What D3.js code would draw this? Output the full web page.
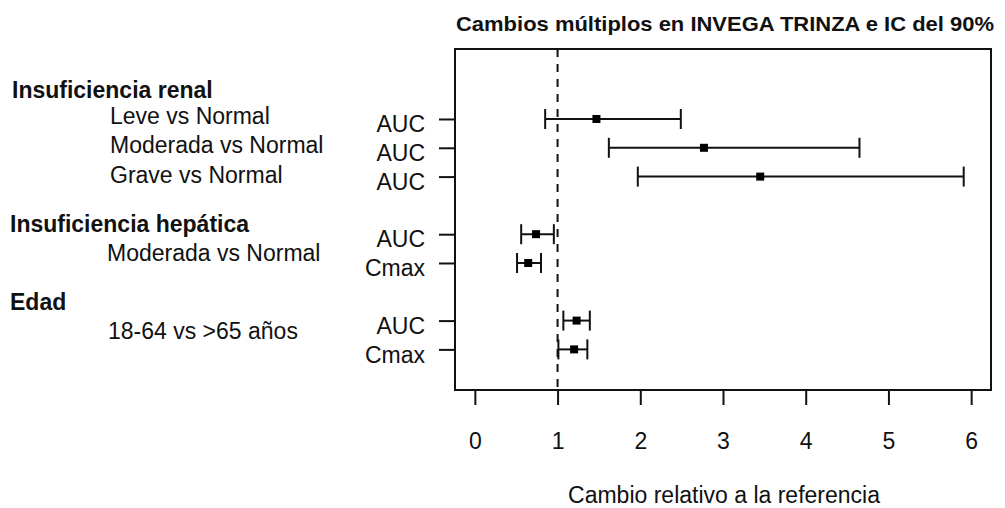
<!DOCTYPE html>
<html>
<head>
<meta charset="utf-8">
<script src="https://d3js.org/d3.v7.min.js"></script>
<style>
  body { margin: 0; background: #fff; }
  svg text { font-family: "Liberation Sans", Arial, sans-serif; fill: #111; }
</style>
</head>
<body>
<div id="chart"></div>
<script>
// data
var rowLabels = ["AUC", "AUC", "AUC", "AUC", "Cmax", "AUC", "Cmax"];
var rowIndex  = [0, 1, 2, 4, 5, 7, 8];
var pointEst  = [1.47, 2.77, 3.45, 0.74, 0.645, 1.23, 1.20];
var ciLow     = [0.85, 1.62, 1.97, 0.56, 0.51, 1.07, 1.01];
var ciHigh    = [2.49, 4.65, 5.91, 0.955, 0.80, 1.39, 1.36];
var xTicks    = [0, 1, 2, 3, 4, 5, 6];

var groupHeaders = ["Insuficiencia renal", "Insuficiencia hepática", "Edad"];
var subLabels = ["Leve vs Normal", "Moderada vs Normal", "Grave vs Normal", "Moderada vs Normal", "18-64 vs >65 años"];

var title = "Cambios múltiplos en INVEGA TRINZA e IC del 90%";
var xTitle = "Cambio relativo a la referencia";

var W = 1005, H = 508;
var box = {left: 455, right: 991, top: 49, bottom: 390};

var svg = d3.select("#chart").append("svg")
  .attr("width", W).attr("height", H);

var x = d3.scaleLinear().domain([-0.24, 6.24]).range([box.left, box.right]);
var y = d3.scaleLinear().domain([-2.43, 9.41]).range([box.top, box.bottom]);

// title
svg.append("text")
  .attr("x", 725).attr("y", 31)
  .attr("text-anchor", "middle")
  .attr("textLength", 538).attr("lengthAdjust", "spacingAndGlyphs")
  .style("font-size", "21px").style("font-weight", "bold")
  .text(title);

// reference line at 1
svg.append("line")
  .attr("x1", x(1)).attr("x2", x(1))
  .attr("y1", box.top).attr("y2", box.bottom)
  .attr("stroke", "#111").attr("stroke-width", 2)
  .attr("stroke-dasharray", "8,7");

// box
svg.append("rect")
  .attr("x", box.left).attr("y", box.top)
  .attr("width", box.right - box.left).attr("height", box.bottom - box.top)
  .attr("fill", "none").attr("stroke", "#111").attr("stroke-width", 2);

// x axis
var xAxis = d3.axisBottom(x).tickValues(xTicks).tickSize(15).tickPadding(28).tickFormat(d3.format("d"));
var gx = svg.append("g").attr("transform", "translate(0," + box.bottom + ")").call(xAxis);
gx.select(".domain").remove();
gx.selectAll("line").attr("stroke", "#111").attr("stroke-width", 2);
gx.selectAll("text").style("font-size", "23px").attr("font-family", null);

// y axis (row labels)
var rows = rowIndex.map(function(r, i) {
  return {row: r, label: rowLabels[i], est: pointEst[i], lo: ciLow[i], hi: ciHigh[i]};
});
var yAxis = d3.axisLeft(y).tickValues(rowIndex).tickSize(16).tickPadding(14)
  .tickFormat(function(d) { return rowLabels[rowIndex.indexOf(d)]; });
var gy = svg.append("g").attr("transform", "translate(" + box.left + ",0)").call(yAxis);
gy.select(".domain").remove();
gy.selectAll("line").attr("stroke", "#111").attr("stroke-width", 2);
gy.selectAll("text").style("font-size", "23px").attr("font-family", null).attr("dy", "0.55em");

// x title
svg.append("text")
  .attr("x", 724).attr("y", 503)
  .attr("text-anchor", "middle")
  .style("font-size", "23px")
  .text(xTitle);

// group headers and sub-labels (left side)
var headerPos = [{x: 12, y: 98}, {x: 10, y: 232}, {x: 10, y: 310}];
svg.selectAll(".hdr").data(groupHeaders).enter().append("text")
  .attr("class", "hdr")
  .attr("x", function(d, i) { return headerPos[i].x; })
  .attr("y", function(d, i) { return headerPos[i].y; })
  .style("font-size", "23px").style("font-weight", "bold")
  .text(function(d) { return d; });

var subPos = [{x: 110, y: 124}, {x: 110, y: 153}, {x: 110, y: 183}, {x: 107, y: 261}, {x: 108, y: 339}];
svg.selectAll(".sub").data(subLabels).enter().append("text")
  .attr("class", "sub")
  .attr("x", function(d, i) { return subPos[i].x; })
  .attr("y", function(d, i) { return subPos[i].y; })
  .style("font-size", "23px")
  .text(function(d) { return d; });

// confidence intervals
var g = svg.append("g");
g.selectAll(".ci").data(rows).enter().append("line")
  .attr("x1", function(d) { return x(d.lo); })
  .attr("x2", function(d) { return x(d.hi); })
  .attr("y1", function(d) { return y(d.row); })
  .attr("y2", function(d) { return y(d.row); })
  .attr("stroke", "#111").attr("stroke-width", 2);

["lo", "hi"].forEach(function(k) {
  g.selectAll(".cap-" + k).data(rows).enter().append("line")
    .attr("x1", function(d) { return x(d[k]); })
    .attr("x2", function(d) { return x(d[k]); })
    .attr("y1", function(d) { return y(d.row) - 10; })
    .attr("y2", function(d) { return y(d.row) + 10; })
    .attr("stroke", "#111").attr("stroke-width", 2);
});

g.selectAll(".pt").data(rows).enter().append("rect")
  .attr("x", function(d) { return x(d.est) - 4; })
  .attr("y", function(d) { return y(d.row) - 4; })
  .attr("width", 8).attr("height", 8)
  .attr("fill", "#000");
</script>
</body>
</html>
